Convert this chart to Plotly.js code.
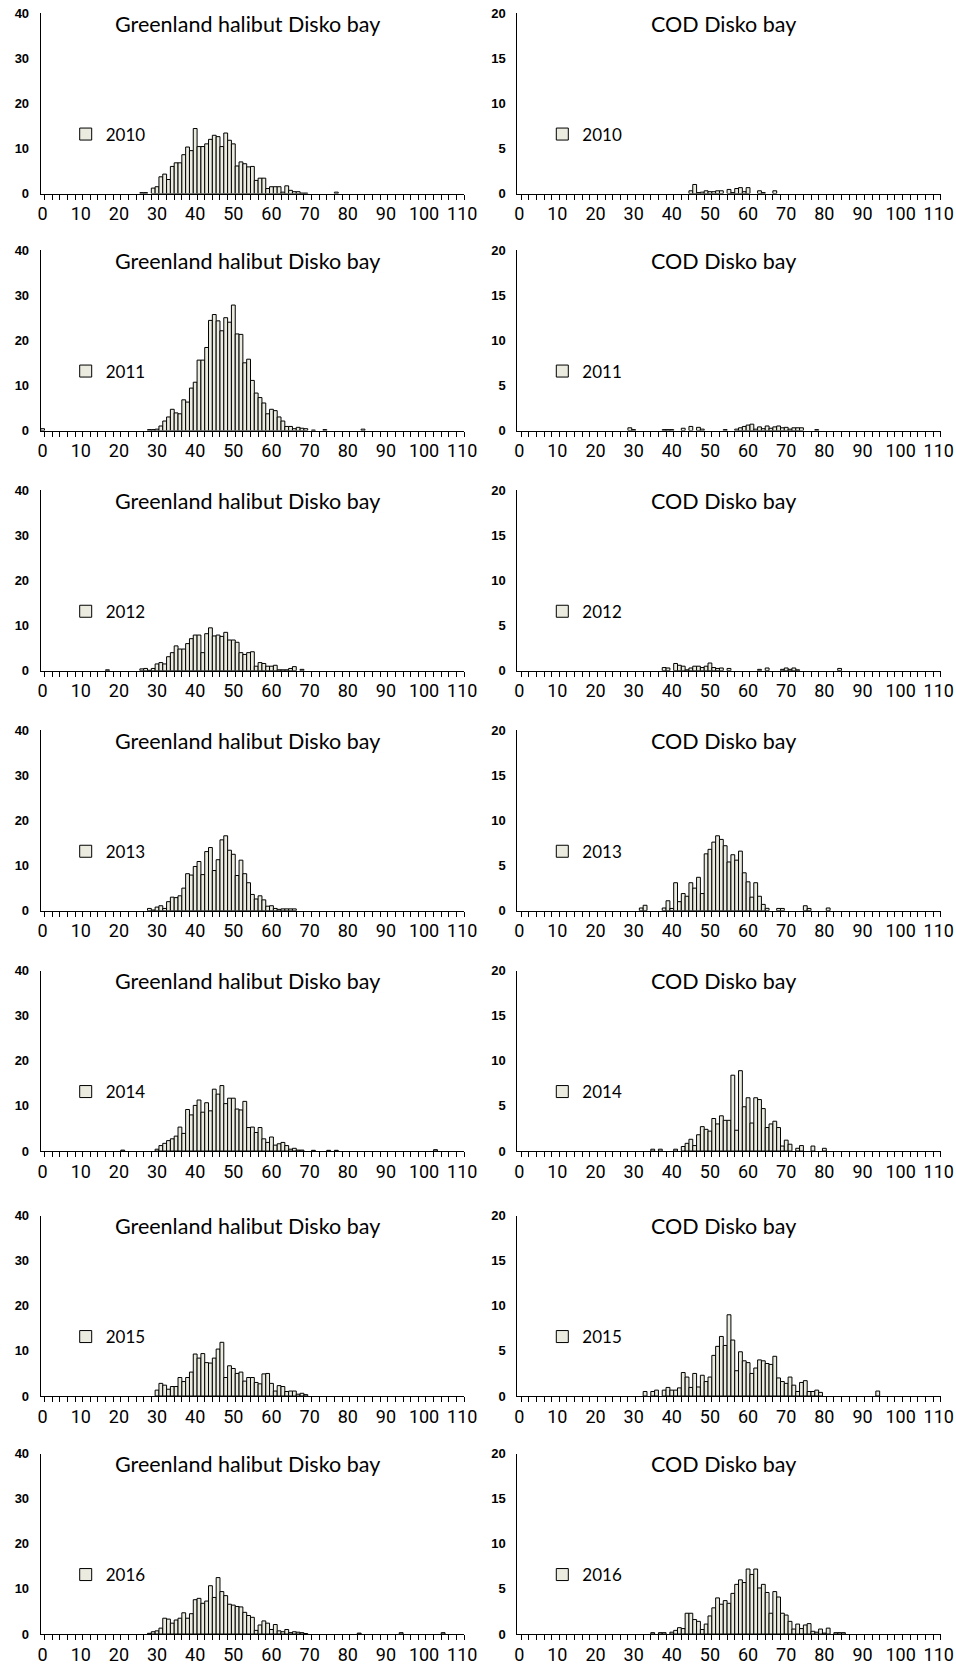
<!DOCTYPE html>
<html><head><meta charset="utf-8">
<script src="https://cdn.plot.ly/plotly-3.0.1.min.js"></script>
<style>html,body{margin:0;padding:0;background:#fff}#chart{width:956px;height:1669px}</style>
</head><body><div id="chart"></div>
<script>
// ---------------- data ----------------
const years = ['2010','2011','2012','2013','2014','2015','2016'];
const ghTitle = 'Greenland halibut Disko bay';
const codTitle = 'COD Disko bay';

// Greenland halibut: first length (cm) of each contiguous series
const ghStart = [26, 0, 17, 28, 21, 30, 28];
const gh2010 = [0.2,0.2,0,1.2,1.5,3.7,4.3,3.1,6.0,6.8,6.8,8.6,10.3,9.5,14.4,10.4,10.4,11.0,12.0,12.9,12.6,10.4,13.4,11.8,11.0,6.1,7.0,6.6,5.9,6.0,2.9,3.4,3.4,1.1,1.5,1.5,1.5,0.3,1.7,0.7,0.4,0.4,0.1,0.1,0,0,0,0,0,0,0,0.3];
const gh2011 = [0.4,0,0,0,0,0,0,0,0,0,0,0,0,0,0,0,0,0,0,0,0,0,0,0,0,0,0,0,0.2,0.2,0.3,1.0,2.1,3.0,4.7,3.9,3.7,6.8,6.3,9.4,10.7,15.6,15.6,18.4,24.4,25.7,24.3,22.1,25.0,24.0,27.8,21.4,21.3,15.0,15.8,11.1,8.3,7.3,6.1,3.7,4.7,4.4,3.0,2.1,0.9,0.9,0.4,0.7,0.5,0.4,0,0.1,0,0,0.2,0,0,0,0,0,0,0,0,0,0.3];
const gh2012 = [0.2,0,0,0,0,0,0,0,0,0.4,0.5,0.1,0.5,1.5,1.8,1.5,3.1,4.0,5.5,4.8,4.8,6.0,7.1,7.9,7.9,4.0,8.2,9.5,7.7,7.9,7.6,8.5,6.8,6.8,6.3,4.0,3.6,4.0,4.2,1.0,1.8,1.6,1.0,1.0,1.2,0.2,0.2,0.2,0.5,0.9,0,0.3];
const gh2013 = [0.5,0.15,0.8,1.1,0.5,2.0,3.0,2.9,3.3,5.0,8.2,7.9,9.8,10.9,8.0,13.1,14.0,8.9,11.3,15.7,16.6,13.4,12.5,7.8,11.2,8.2,6.2,3.6,2.6,3.3,2.4,1.0,1.1,0.5,0.3,0.4,0.4,0.4,0.4];
const gh2014 = [0.2,0,0,0,0,0,0,0,0,0.4,1.2,1.7,2.3,2.7,3.3,5.3,3.9,9.2,8.0,10.1,11.3,8.6,10.7,8.9,13.7,12.6,14.5,10.5,11.7,11.7,9.3,9.1,11.0,5.2,5.3,4.1,5.2,2.7,1.9,3.1,1.3,1.6,1.9,1.2,0.4,0.6,0.2,0.2,0,0,0.15,0,0,0,0.15,0,0.15,0,0,0,0,0,0,0,0,0,0,0,0,0,0,0,0,0,0,0,0,0,0,0,0,0,0.3];
const gh2015 = [1.3,2.8,2.4,1.5,2.1,2.1,4.1,3.2,4.1,5.3,9.3,8.4,9.4,7.4,7.3,8.4,10.4,11.9,4.1,6.7,6.1,5.0,5.3,3.3,4.1,4.1,3.0,2.7,4.9,5.0,2.8,1.1,2.3,2.1,1.0,1.1,1.1,0.4,0.6,0.3];
const gh2016 = [0.15,0.5,0.7,1.3,3.5,3.3,2.4,3.1,3.5,4.7,3.5,4.5,7.6,7.9,6.8,7.3,10.7,8.1,12.5,9.4,8.5,6.6,6.4,6.1,6.0,4.8,4.1,3.7,0.8,2.0,2.9,2.4,1.0,2.1,0.7,0.5,1.0,0.3,0.5,0.4,0.3,0.1,0,0,0,0,0,0,0,0,0,0,0,0,0,0.2,0,0,0,0,0,0,0,0,0,0,0.3,0,0,0,0,0,0,0,0,0,0,0.3];

// Cod: first length (cm) of each contiguous series
const codStart = [45, 29, 38, 32, 35, 33, 35];
const cod2010 = [0.3,1.0,0.1,0.15,0.3,0.2,0.2,0.3,0.3,0,0.45,0.1,0.55,0.65,0.2,0.65,0,0,0.3,0.1,0,0,0.3];
const cod2011 = [0.3,0.1,0,0,0,0,0,0,0,0.1,0.1,0.1,0,0,0.25,0,0.45,0,0.35,0.15,0,0,0,0,0,0.1,0,0,0.15,0.3,0.45,0.6,0.7,0.15,0.4,0.2,0.5,0.25,0.4,0.5,0.3,0.35,0.15,0.3,0.3,0.3,0,0,0,0.1];
const cod2012 = [0.35,0.3,0,0.8,0.6,0.5,0.1,0.3,0.5,0.5,0.35,0.5,0.85,0.35,0.25,0.3,0,0.25,0,0,0,0,0,0,0,0.15,0,0.3,0,0,0,0.15,0.3,0.15,0.3,0.1,0,0,0,0,0,0,0,0,0,0,0.25];
const cod2013 = [0.3,0.6,0,0,0,0,0.3,1.1,0.25,3.1,1.0,1.9,1.6,3.1,2.5,3.7,1.9,6.3,6.8,7.6,8.3,7.9,7.2,5.4,6.2,5.6,6.6,4.2,3.2,1.5,3.1,1.6,0.7,0.26,0,0,0.25,0.25,0,0,0,0,0,0.55,0.25,0,0,0,0,0.3];
const cod2014 = [0.2,0,0.2,0,0,0,0.2,0,0.5,0.85,1.3,0.6,1.8,2.7,2.4,2.2,3.6,3.0,3.9,3.4,3.4,8.4,2.3,8.9,4.9,5.9,3.1,5.9,5.7,4.7,2.6,3.0,3.3,2.6,0.55,1.2,0.75,0,0.3,0.6,0,0,0.55,0,0,0.3];
const cod2015 = [0.5,0,0.5,0.65,0,0.65,0.95,0.65,0.65,0.9,2.6,2.1,0.95,2.5,1.0,2.3,1.6,2.1,4.5,5.5,6.6,5.6,9.0,6.2,2.8,4.9,3.9,3.7,2.5,3.1,4.0,3.9,3.6,3.5,4.4,2.0,1.6,1.4,2.1,1.2,0.5,1.5,1.7,0.5,0.5,0.65,0.4,0,0,0,0,0,0,0,0,0,0,0,0,0,0,0.55];
const cod2016 = [0.15,0,0.15,0.15,0,0.2,0.4,0.7,0.6,2.3,2.3,1.6,1.4,0.5,1.1,2.0,2.9,4.0,3.3,3.7,3.4,4.5,5.5,6.0,5.7,7.2,6.6,7.2,5.1,5.5,4.6,2.3,4.7,4.1,2.3,2.1,1.4,0.55,1.1,0.6,1.0,1.15,0.3,0.2,0.55,0.1,0.65,0,0.15,0.15,0.15];

const ghSeries = [gh2010, gh2011, gh2012, gh2013, gh2014, gh2015, gh2016];
const codSeries = [cod2010, cod2011, cod2012, cod2013, cod2014, cod2015, cod2016];

const xTickVals = [0,10,20,30,40,50,60,70,80,90,100,110];
const xTickText = ['0','10','20','30','40','50','60','70','80','90','100','110'];
const ghYTicks = [0,10,20,30,40];
const codYTicks = [0,5,10,15,20];

// ---------------- layout ----------------
const W = 956, H = 1669;
const colLeft = [40.7, 517.3];
const plotW = 423.4;
const rowZero = [193.5, 430.5, 670.7, 910.7, 1151, 1396, 1634];
const plotH = 180.5;
const barFill = '#EBEBE0';
const tickFont = {family: 'Liberation Sans Narrow, Arial Narrow, Roboto', size: 18, color: '#000'};
const yTickFont = {family: 'Liberation Sans, Arial', size: 13, color: '#000', weight: 'bold'};
const titleFont = {family: 'Lato, Open Sans', size: 21.5, color: '#000'};
const legendFont = {family: 'Lato, Open Sans', size: 17, color: '#000'};

const traces = [];
const layout = {
  width: W, height: H, margin: {l: 0, r: 0, t: 0, b: 0},
  paper_bgcolor: '#fff', plot_bgcolor: 'rgba(0,0,0,0)',
  showlegend: true,
  bargap: 0, annotations: []
};

function addPanel(r, c, counts, start, yMax, yTicks, title) {
  const idx = r * 2 + c + 1;
  const sfx = idx > 1 ? String(idx) : '';
  const xs = [], ys = [];
  counts.forEach((v, i) => { if (v > 0) { xs.push(start + i); ys.push(v); } });
  traces.push({
    type: 'bar', x: xs, y: ys, name: years[r], showlegend: true,
    xaxis: 'x' + sfx, yaxis: 'y' + sfx, legend: 'legend' + sfx,
    marker: {color: barFill, line: {color: '#000', width: 1}},
    hoverinfo: 'x+y'
  });
  const x0 = colLeft[c], z = rowZero[r];
  layout['xaxis' + sfx] = {
    domain: [x0 / W, (x0 + plotW) / W], anchor: 'y' + sfx,
    range: [-0.5, 110.5], tickmode: 'array', tickvals: xTickVals, ticktext: xTickText,
    ticks: '', showline: true, linecolor: '#000', linewidth: 1,
    showgrid: false, zeroline: false, tickfont: tickFont, ticklabelstandoff: 4,
    minor: {tickmode: 'linear', tick0: 0.5, dtick: 2, ticks: 'outside', ticklen: 5, tickwidth: 1, tickcolor: '#000', showgrid: false},
    fixedrange: true
  };
  layout['yaxis' + sfx] = {
    domain: [1 - z / H, 1 - (z - plotH) / H], anchor: 'x' + sfx,
    range: [0, yMax], tickmode: 'array', tickvals: yTicks,
    ticks: '', showline: true, linecolor: '#000', linewidth: 1,
    showgrid: false, zeroline: false, tickfont: yTickFont, ticklabelstandoff: 8,
    fixedrange: true
  };
  layout['legend' + sfx] = {
    visible: true,
    x: (x0 + 25) / W, y: 1 - (z - 59) / H, xanchor: 'left', yanchor: 'middle',
    font: legendFont, bgcolor: 'rgba(0,0,0,0)', borderwidth: 0
  };
  layout.annotations.push({
    text: title, showarrow: false, font: titleFont,
    xref: 'x' + sfx + ' domain', yref: 'y' + sfx + ' domain',
    x: 0.488, y: 1 - 10.5 / plotH, xanchor: 'center', yanchor: 'middle'
  });
}

for (let r = 0; r < 7; r++) {
  addPanel(r, 0, ghSeries[r], ghStart[r], 40, ghYTicks, ghTitle);
  addPanel(r, 1, codSeries[r], codStart[r], 20, codYTicks, codTitle);
}

Plotly.newPlot('chart', traces, layout, {displayModeBar: false, staticPlot: true});
</script>
</body></html>
